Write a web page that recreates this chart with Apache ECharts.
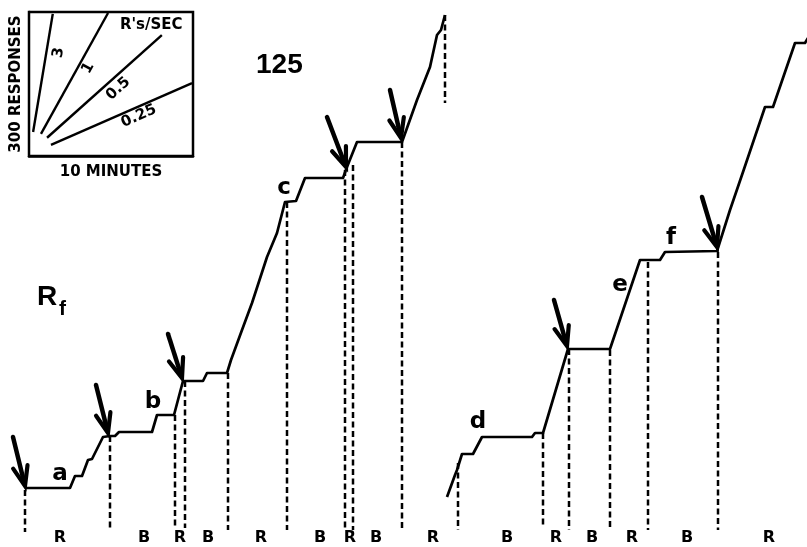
<!DOCTYPE html>
<html>
<head>
<meta charset="utf-8">
<script src="https://cdn.jsdelivr.net/npm/echarts@6/dist/echarts.min.js"></script>
<style>
  html, body { margin: 0; padding: 0; background: #fff; }
  #chart { width: 807px; height: 547px; }
</style>
</head>
<body>
<div id="chart"></div>
<script>
// Cumulative record, first session: [time, cumulative responses] in record units
const recordFirst = [
  [25, 59], [70, 59], [75, 71], [82, 71], [84, 69], [88, 87], [92, 88],
  [103, 110], [110, 111], [115, 111], [119, 115], [152, 115], [157, 132],
  [174, 132], [183, 166], [203, 166], [207, 174], [227, 174], [231, 187],
  [242, 217], [252, 244], [267, 290], [277, 314], [285, 345], [296, 346],
  [305, 369], [343, 369], [347, 380], [357, 405], [402, 405], [417, 447],
  [430, 480], [437, 512], [441, 517], [445, 532]
];

// Cumulative record, second session
const recordSecond = [
  [447, 50], [455, 72], [457, 77], [462, 93], [473, 93], [482, 110],
  [532, 110], [535, 114], [543, 114], [568, 198], [610, 198], [640, 287],
  [660, 287], [665, 295], [717, 296], [730, 337], [743, 375], [765, 440],
  [773, 440], [795, 504], [805, 504], [808, 509]
];

// Dashed drop lines: [time, top, bottom]
const dropLines = [
  [25, 57, 15], [110, 111, 17], [175, 132, 20], [185, 166, 19], [228, 174, 17],
  [287, 345, 17], [345, 377, 17], [353, 382, 17], [402, 405, 17], [445, 532, 444],
  [458, 84, 17], [543, 114, 20], [569, 198, 17], [610, 197, 19], [648, 285, 17],
  [718, 295, 17]
];

// Arrows marking stimulus changes: [tail time, tail count, tip time, tip count]
const arrows = [
  [13, 110, 25, 61], [96, 162, 108, 114], [168, 213, 182, 169],
  [327, 430, 346, 380], [390, 457, 401, 409], [554, 247, 567, 201],
  [702, 350, 717, 300]
];

// Segment letters: [text, time, count]
const segmentLetters = [
  ['a', 60, 73], ['b', 153, 145], ['c', 284, 359],
  ['d', 478, 125], ['e', 620, 262], ['f', 671, 309]
];

// Phase labels along the base line
const phaseNames = ['R', 'B', 'R', 'B', 'R', 'B', 'R', 'B', 'R', 'B', 'R', 'B', 'R', 'B', 'R'];
const phaseTimes = [60, 144, 180, 208, 261, 320, 350, 376, 433, 507, 556, 592, 632, 687, 769];
const phaseLevel = 9;

// Rate key: minutes vs responses
const rate3 = [[0.25, 50], [1.45, 296]];
const rate1 = [[0.73, 46], [4.82, 298]];
const rate05 = [[1.1, 38], [8.1, 252]];
const rate025 = [[1.34, 23], [9.94, 152]];
// [text, minutes, responses, angle]
const rateLabels = [
  ['3', 1.8, 215, 80], ['1', 3.6, 183, 61], ['0.5', 5.45, 140, 42], ['0.25', 6.7, 83, 24]
];
const keyTitle = ["R's/SEC", 7.45, 272];

const FONT = '"Liberation Sans", "DejaVu Sans", sans-serif';
const WIDE = '"DejaVu Sans", sans-serif';
const INK = '#000';

const chart = echarts.init(document.getElementById('chart'), null, { renderer: 'canvas' });

function rateLine(data) {
  return {
    type: 'line', xAxisIndex: 1, yAxisIndex: 1, data, symbol: 'none',
    lineStyle: { color: INK, width: 2.4 }, silent: true, z: 5
  };
}

function textLayer(extra) {
  return Object.assign({
    type: 'scatter', symbolSize: 0, z: 7, silent: true,
    itemStyle: { opacity: 1 }
  }, extra);
}

chart.setOption({
  animation: false,
  backgroundColor: '#fff',
  grid: [
    { left: 0, right: 0, top: 0, bottom: 0 },
    { left: 29, top: 12, width: 164, height: 144, show: true,
      borderColor: INK, borderWidth: 2.5, backgroundColor: '#fff', z: 3 }
  ],
  xAxis: [
    { gridIndex: 0, type: 'value', min: 0, max: 807, show: false },
    { gridIndex: 1, type: 'value', min: 0, max: 10, interval: 5,
      axisLine: { show: true, lineStyle: { color: INK, width: 2.5 } },
      axisTick: { show: true, inside: true, length: 10, lineStyle: { color: INK, width: 2 } },
      axisLabel: { show: false }, splitLine: { show: false },
      name: '10 MINUTES', nameLocation: 'middle', nameGap: 9,
      nameTextStyle: { color: INK, fontFamily: WIDE, fontWeight: 'bold', fontSize: 15 } }
  ],
  yAxis: [
    { gridIndex: 0, type: 'value', min: 0, max: 547, show: false },
    { gridIndex: 1, type: 'value', min: 0, max: 300,
      axisLine: { show: true, lineStyle: { color: INK, width: 2.5 } },
      axisTick: { show: false }, axisLabel: { show: false }, splitLine: { show: false },
      name: '300 RESPONSES', nameLocation: 'middle', nameGap: 5,
      nameTextStyle: { color: INK, fontFamily: WIDE, fontWeight: 'bold', fontSize: 15 } }
  ],
  graphic: [
    { type: 'text', left: 256, top: 51, z: 10,
      style: { text: '125', fill: INK, font: 'bold 28px ' + FONT } },
    { type: 'text', left: 37, top: 283, z: 10,
      style: { text: 'R', fill: INK, font: 'bold 28px ' + FONT } },
    { type: 'text', left: 59, top: 299, z: 10,
      style: { text: 'f', fill: INK, font: 'bold 21px ' + FONT } }
  ],
  series: [
    {
      type: 'line', data: recordFirst, symbol: 'none',
      lineStyle: { color: INK, width: 2.7, join: 'round' }, z: 4
    },
    {
      type: 'line', data: recordSecond, symbol: 'none',
      lineStyle: { color: INK, width: 2.7, join: 'round' }, z: 4
    },
    {
      type: 'custom', data: dropLines, encode: { x: 0, y: [1, 2] }, z: 3,
      renderItem: function (params, api) {
        const a = api.coord([api.value(0), api.value(1)]);
        const b = api.coord([api.value(0), api.value(2)]);
        return {
          type: 'line',
          shape: { x1: a[0], y1: a[1], x2: b[0], y2: b[1] },
          style: { stroke: INK, lineWidth: 2.5, lineDash: [6, 3.5] }
        };
      }
    },
    {
      type: 'custom', data: arrows, encode: { x: [0, 2], y: [1, 3] }, z: 6,
      renderItem: function (params, api) {
        const p0 = api.coord([api.value(0), api.value(1)]);
        const p1 = api.coord([api.value(2), api.value(3)]);
        const back = Math.atan2(p0[1] - p1[1], p0[0] - p1[0]);
        const len = 21, spread = 0.36;
        const left = [p1[0] + len * Math.cos(back + spread), p1[1] + len * Math.sin(back + spread)];
        const right = [p1[0] + len * Math.cos(back - spread), p1[1] + len * Math.sin(back - spread)];
        const shaftEnd = [p1[0] + 3 * Math.cos(back), p1[1] + 3 * Math.sin(back)];
        return {
          type: 'group',
          children: [
            { type: 'line', shape: { x1: p0[0], y1: p0[1], x2: shaftEnd[0], y2: shaftEnd[1] },
              style: { stroke: INK, lineWidth: 4.5, lineCap: 'round' } },
            { type: 'polyline', shape: { points: [left, p1, right] },
              style: { stroke: INK, fill: null, lineWidth: 4.2, lineJoin: 'miter', lineCap: 'round' } }
          ]
        };
      }
    },
    textLayer({
      data: segmentLetters.map(d => ({ value: [d[1], d[2]], name: d[0] })),
      label: { show: true, position: 'inside', formatter: p => p.name,
        color: INK, opacity: 1, fontFamily: WIDE, fontWeight: 'bold', fontSize: 23 }
    }),
    textLayer({
      data: phaseNames.map((n, i) => ({ value: [phaseTimes[i], phaseLevel], name: n })),
      label: { show: true, position: 'inside', formatter: p => p.name,
        color: INK, opacity: 1, fontFamily: WIDE, fontWeight: 'bold', fontSize: 16 }
    }),
    rateLine(rate3), rateLine(rate1), rateLine(rate05), rateLine(rate025),
    textLayer({
      xAxisIndex: 1, yAxisIndex: 1,
      data: rateLabels.map(d => ({ value: [d[1], d[2]], name: d[0],
        label: { rotate: d[3] } })),
      label: { show: true, position: 'inside', formatter: p => p.name,
        color: INK, opacity: 1, fontFamily: WIDE, fontWeight: 'bold', fontSize: 15 }
    }),
    textLayer({
      xAxisIndex: 1, yAxisIndex: 1,
      data: [{ value: [keyTitle[1], keyTitle[2]], name: keyTitle[0] }],
      label: { show: true, position: 'inside', formatter: p => p.name,
        color: INK, opacity: 1, fontFamily: WIDE, fontWeight: 'bold', fontSize: 15 }
    })
  ]
});
</script>
</body>
</html>
